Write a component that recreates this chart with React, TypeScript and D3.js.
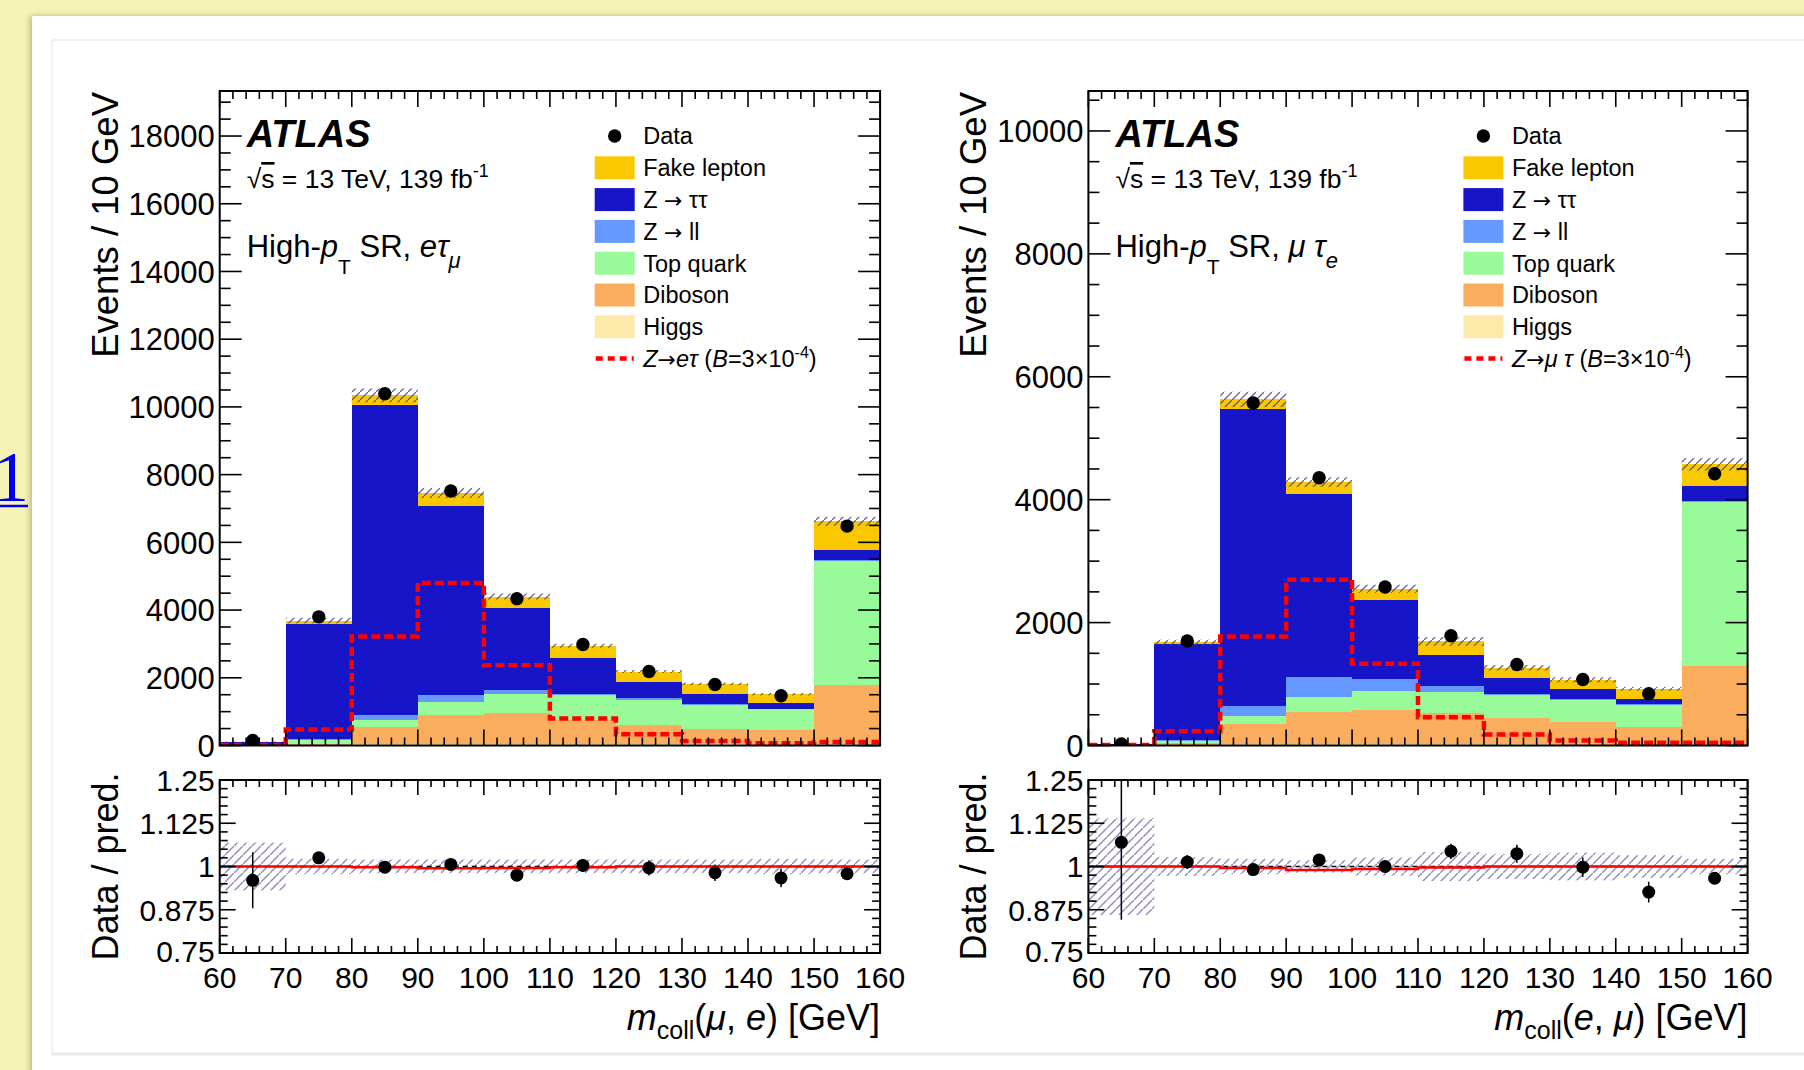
import React from 'react';
import * as d3 from 'd3';

// bin edges / centres of m_coll [GeV]
const edges = [60, 70, 80, 90, 100, 110, 120, 130, 140, 150, 160];
const centers = [65, 75, 85, 95, 105, 115, 125, 135, 145, 155];

// e tau_mu channel (left)
const etmData = [150, 3800, 10390, 7515, 4335, 2985, 2185, 1800, 1470, 6480];
const etmFake = [10, 115, 290, 380, 340, 355, 295, 305, 265, 840];
const etmZtt = [88, 3395, 9160, 5600, 2435, 1060, 490, 275, 165, 310];
const etmZll = [2, 10, 150, 200, 95, 50, 50, 30, 20, 20];
const etmTop = [4, 115, 200, 390, 575, 740, 730, 720, 595, 3675];
const etmDiboson = [4, 45, 500, 840, 905, 700, 585, 460, 445, 1735];
const etmHiggs = [2, 10, 40, 50, 50, 40, 35, 30, 25, 40];
const etmSignal = [15, 475, 3220, 4800, 2370, 800, 330, 130, 70, 100];
const etmUnc = [0.069, 0.022, 0.02, 0.02, 0.02, 0.02, 0.02, 0.02, 0.022, 0.02];
const etmRatio = [0.96, 1.025, 0.998, 1.006, 0.975, 1.003, 0.996, 0.982, 0.967, 0.979];
const etmRatioErr = [0.081, 0.017, 0.01, 0.012, 0.015, 0.019, 0.022, 0.024, 0.027, 0.013];
const etmRatioLine = [1, 1, 0.998, 0.995, 0.996, 0.998, 1, 1, 1, 1];

// mu tau_e channel (right)
const mteData = [25, 1700, 5573, 4358, 2578, 1785, 1319, 1075, 841, 4423];
const mteFake = [3, 22, 152, 200, 190, 217, 168, 157, 163, 358];
const mteZtt = [15, 1563, 4846, 2974, 1276, 515, 255, 163, 92, 239];
const mteZll = [1, 22, 147, 326, 200, 93, 27, 16, 17, 22];
const mteTop = [1, 32, 146, 244, 315, 336, 369, 353, 353, 2659];
const mteDiboson = [1, 30, 322, 518, 545, 510, 427, 365, 286, 1277];
const mteHiggs = [0, 8, 20, 25, 25, 22, 18, 15, 12, 20];
const mteSignal = [10, 233, 1775, 2697, 1330, 461, 179, 81, 43, 43];
const mteUnc = [0.14, 0.027, 0.022, 0.018, 0.026, 0.042, 0.036, 0.04, 0.033, 0.022];
const mteRatio = [1.07, 1.013, 0.991, 1.019, 1.0, 1.044, 1.037, 0.998, 0.926, 0.966];
const mteRatioErr = [0.224, 0.02, 0.012, 0.014, 0.018, 0.022, 0.026, 0.028, 0.03, 0.015];
const mteRatioLine = [1, 1, 0.996, 0.99, 0.993, 0.997, 1, 1, 1, 1];

const stackKeys = ['higgs', 'diboson', 'top', 'zll', 'ztt', 'fake'];
const colors: any = {
  fake: '#fac800',
  ztt: '#1616c8',
  zll: '#6699ff',
  top: '#99fa99',
  diboson: '#fbad5e',
  higgs: '#fde9a9',
};

const FONT = "'Liberation Sans', Arial, Helvetica, sans-serif";
const ARROW_FONT = "'DejaVu Sans', sans-serif";
const MAIN_TOP = 91;
const MAIN_BOT = 745.5;
const RAT_TOP = 780;
const RAT_BOT = 953;

const panels = [
  {
    id: 'etm', x0: 219.7, x1: 880.1, yMax: 19330,
    data: etmData, fake: etmFake, ztt: etmZtt, zll: etmZll, top: etmTop, diboson: etmDiboson, higgs: etmHiggs,
    signal: etmSignal, unc: etmUnc, ratio: etmRatio, ratioErr: etmRatioErr, ratioLine: etmRatioLine,
    lep: 'e', tau: 'μ', sigLep: 'e', xa: 'μ', xb: 'e',
  },
  {
    id: 'mte', x0: 1088.4, x1: 1747.6, yMax: 10650,
    data: mteData, fake: mteFake, ztt: mteZtt, zll: mteZll, top: mteTop, diboson: mteDiboson, higgs: mteHiggs,
    signal: mteSignal, unc: mteUnc, ratio: mteRatio, ratioErr: mteRatioErr, ratioLine: mteRatioLine,
    lep: 'μ', tau: 'e', sigLep: 'μ', xa: 'e', xb: 'μ',
  },
];

const Panel = ({ p }: { p: any }) => {
  const x = d3.scaleLinear().domain([60, 160]).range([p.x0, p.x1]);
  const y = d3.scaleLinear().domain([0, p.yMax]).range([MAIN_BOT, MAIN_TOP]);
  const r = d3.scaleLinear().domain([0.75, 1.25]).range([RAT_BOT, RAT_TOP]);

  const rows = centers.map((_, i) => ({
    higgs: p.higgs[i], diboson: p.diboson[i], top: p.top[i],
    zll: p.zll[i], ztt: p.ztt[i], fake: p.fake[i],
  }));
  const series = d3.stack<any>().keys(stackKeys)(rows);
  const totals = series[series.length - 1].map((d: any) => d[1]);

  const step = (vals: number[], sy: any) =>
    d3.line<number>()
      .x((_, i) => x(edges[i]))
      .y((d) => sy(d))
      .curve(d3.curveStepAfter)([...vals, vals[vals.length - 1]]) || '';

  // ticks
  const ticks: any[] = [];
  d3.range(60, 161, 2).forEach((v) => {
    const major = v % 10 === 0;
    const lm = major ? 16 : 8;
    const lr = major ? 15 : 7;
    ticks.push(<line key={'mb' + v} x1={x(v)} x2={x(v)} y1={MAIN_BOT} y2={MAIN_BOT - lm} />);
    ticks.push(<line key={'mt' + v} x1={x(v)} x2={x(v)} y1={MAIN_TOP} y2={MAIN_TOP + lm} />);
    ticks.push(<line key={'rb' + v} x1={x(v)} x2={x(v)} y1={RAT_BOT} y2={RAT_BOT - lr} />);
    ticks.push(<line key={'rt' + v} x1={x(v)} x2={x(v)} y1={RAT_TOP} y2={RAT_TOP + lr} />);
  });
  d3.range(0, p.yMax, 500).forEach((v) => {
    const l = v % 2000 === 0 ? 22 : 11;
    ticks.push(<line key={'yl' + v} x1={p.x0} x2={p.x0 + l} y1={y(v)} y2={y(v)} />);
    ticks.push(<line key={'yr' + v} x1={p.x1} x2={p.x1 - l} y1={y(v)} y2={y(v)} />);
  });
  d3.range(0, 21).forEach((k) => {
    const v = 0.75 + k * 0.025;
    const l = k % 5 === 0 ? 16 : 8;
    ticks.push(<line key={'rl' + k} x1={p.x0} x2={p.x0 + l} y1={r(v)} y2={r(v)} />);
    ticks.push(<line key={'rr' + k} x1={p.x1} x2={p.x1 - l} y1={r(v)} y2={r(v)} />);
  });

  const yLabels = d3.range(0, p.yMax, 2000);
  const rLabels = [0.75, 0.875, 1, 1.125, 1.25];
  const xLabels = d3.range(60, 161, 10);

  const lx = p.x0 + 375;
  const tx = p.x0 + 423.5;
  const ly = (k: number) => 136 + k * 31.8;
  const boxes = [
    { key: 'fake', label: 'Fake lepton' },
    { key: 'ztt', label: 'ττ', arrow: true },
    { key: 'zll', label: 'll', arrow: true },
    { key: 'top', label: 'Top quark' },
    { key: 'diboson', label: 'Diboson' },
    { key: 'higgs', label: 'Higgs' },
  ];

  return (
    <g fontFamily={FONT} fill="#000">
      <defs>
        <clipPath id={'clipMain' + p.id}>
          <rect x={p.x0} y={MAIN_TOP} width={p.x1 - p.x0} height={MAIN_BOT - MAIN_TOP} />
        </clipPath>
        <clipPath id={'clipRat' + p.id}>
          <rect x={p.x0} y={RAT_TOP} width={p.x1 - p.x0} height={RAT_BOT - RAT_TOP} />
        </clipPath>
      </defs>

      {/* stacked backgrounds */}
      <g clipPath={`url(#clipMain${p.id})`} shapeRendering="crispEdges">
        {series.map((s: any) =>
          s.map((d: any, i: number) => (
            <rect key={s.key + i} x={x(edges[i])} width={x(edges[i + 1]) - x(edges[i])}
              y={y(d[1])} height={Math.max(0, y(d[0]) - y(d[1]))} fill={colors[s.key]} />
          ))
        )}
      </g>
      {/* uncertainty band, signal, data */}
      <g clipPath={`url(#clipMain${p.id})`}>
        {totals.map((t: number, i: number) => (
          <rect key={'u' + i} x={x(edges[i])} width={x(edges[i + 1]) - x(edges[i])}
            y={y(t * (1 + p.unc[i]))} height={y(t * (1 - p.unc[i])) - y(t * (1 + p.unc[i]))}
            fill="url(#hatch)" />
        ))}
        <path d={step(p.signal, y)} fill="none" stroke="#ff0000" strokeWidth={4.5} strokeDasharray="9 4" />
        {p.data.map((d: number, i: number) => (
          <circle key={'d' + i} cx={x(centers[i])} cy={y(d)} r={6.7} fill="#000" />
        ))}
      </g>

      {/* ratio */}
      <g clipPath={`url(#clipRat${p.id})`}>
        {p.unc.map((u: number, i: number) => (
          <rect key={'ru' + i} x={x(edges[i])} width={x(edges[i + 1]) - x(edges[i])}
            y={r(1 + u)} height={r(1 - u) - r(1 + u)} fill="url(#hatchLight)" />
        ))}
        <line x1={p.x0} x2={p.x1} y1={r(1)} y2={r(1)} stroke="#000" strokeWidth={1.5} strokeDasharray="5 4" />
        <path d={step(p.ratioLine, r)} fill="none" stroke="#ff0000" strokeWidth={2.5} />
        {p.ratio.map((v: number, i: number) => (
          <g key={'rp' + i}>
            <line x1={x(centers[i])} x2={x(centers[i])} y1={r(v + p.ratioErr[i])} y2={r(v - p.ratioErr[i])}
              stroke="#000" strokeWidth={1.5} />
            <circle cx={x(centers[i])} cy={r(v)} r={6.5} fill="#000" />
          </g>
        ))}
      </g>

      {/* frames and ticks */}
      <rect x={p.x0} y={MAIN_TOP} width={p.x1 - p.x0} height={MAIN_BOT - MAIN_TOP} fill="none" stroke="#000" strokeWidth={2} />
      <rect x={p.x0} y={RAT_TOP} width={p.x1 - p.x0} height={RAT_BOT - RAT_TOP} fill="none" stroke="#000" strokeWidth={2} />
      <g stroke="#000" strokeWidth={1.6}>{ticks}</g>

      {/* tick labels */}
      {yLabels.map((v: number) => (
        <text key={'yl' + v} x={p.x0 - 5} y={y(v)} dy="0.36em" textAnchor="end" fontSize={31}>{v}</text>
      ))}
      {rLabels.map((v) => (
        <text key={'rl' + v} x={p.x0 - 5} y={r(v) - (v === 0.75 ? 2 : 0)} dy="0.36em" textAnchor="end" fontSize={30}>{String(v)}</text>
      ))}
      {xLabels.map((v: number) => (
        <text key={'xl' + v} x={x(v)} y={988} textAnchor="middle" fontSize={30}>{v}</text>
      ))}

      {/* axis titles */}
      <text transform={`translate(${p.x0 - 102},92) rotate(-90)`} textAnchor="end" fontSize={36.5}>Events / 10 GeV</text>
      <text transform={`translate(${p.x0 - 102},${(RAT_TOP + RAT_BOT) / 2}) rotate(-90)`} textAnchor="middle" fontSize={36}>Data / pred.</text>
      <text x={p.x1} y={1030} textAnchor="end" fontSize={36}>
        <tspan fontStyle="italic">m</tspan>
        <tspan fontSize={25} dy={9}>coll</tspan>
        <tspan dy={-9}>(</tspan>
        <tspan fontStyle="italic">{p.xa}</tspan>
        <tspan>{', '}</tspan>
        <tspan fontStyle="italic">{p.xb}</tspan>
        <tspan>{') [GeV]'}</tspan>
      </text>

      {/* labels */}
      <text x={p.x0 + 27} y={147} fontSize={38} fontWeight="bold" fontStyle="italic">ATLAS</text>
      <text x={p.x0 + 27} y={188} fontSize={26.5}>
        <tspan>√</tspan>
        <tspan style={{ textDecoration: 'overline' }}>s</tspan>
        <tspan>{' = 13 TeV, 139 fb'}</tspan>
        <tspan fontSize={18} dy={-11}>-1</tspan>
      </text>
      <text x={p.x0 + 27} y={257} fontSize={31}>
        <tspan>High-</tspan>
        <tspan fontStyle="italic">p</tspan>
        <tspan fontSize={21} dy={17}>T</tspan>
        <tspan dy={-17}>{' SR, '}</tspan>
        <tspan fontStyle="italic">{p.lep + (p.lep === 'μ' ? ' ' : '') + 'τ'}</tspan>
        <tspan fontStyle="italic" fontSize={22} dy={11}>{p.tau}</tspan>
      </text>

      {/* legend */}
      <circle cx={lx + 20} cy={ly(0)} r={6.7} fill="#000" />
      <text x={tx} y={ly(0)} dy="0.36em" fontSize={23.5}>Data</text>
      {boxes.map((b, k) => (
        <g key={b.key}>
          <rect x={lx} y={ly(k + 1) - 11.5} width={40} height={23} fill={colors[b.key]} />
          <text x={tx} y={ly(k + 1)} dy="0.36em" fontSize={23.5}>
            {b.arrow ? (
              <>
                <tspan>{'Z '}</tspan>
                <tspan fontFamily={ARROW_FONT} fontSize={22}>→</tspan>
                <tspan>{' ' + b.label}</tspan>
              </>
            ) : b.label}
          </text>
        </g>
      ))}
      <line x1={lx + 1} x2={lx + 39} y1={ly(7)} y2={ly(7)} stroke="#ff0000" strokeWidth={4.5} strokeDasharray="7 5" />
      <text x={tx} y={ly(7)} dy="0.36em" fontSize={23.5}>
        <tspan fontStyle="italic">Z</tspan>
        <tspan fontFamily={ARROW_FONT} fontSize={22}>→</tspan>
        <tspan fontStyle="italic">{p.sigLep + (p.sigLep === 'μ' ? ' ' : '') + 'τ'}</tspan>
        <tspan>{' ('}</tspan>
        <tspan fontStyle="italic">B</tspan>
        <tspan>=3×10</tspan>
        <tspan fontSize={16} dy={-9}>-4</tspan>
        <tspan dy={9}>)</tspan>
      </text>
    </g>
  );
};

const App = () => {
  return (
    <svg width={1804} height={1070} style={{ position: 'absolute', left: 0, top: 0, display: 'block' }}>
      <defs>
        <pattern id="hatch" width={8} height={8} patternUnits="userSpaceOnUse">
          <line x1={0} y1={8} x2={8} y2={0} stroke="#4a4a96" strokeWidth={1.3} strokeOpacity={0.85} />
        </pattern>
        <pattern id="hatchLight" width={9} height={9} patternUnits="userSpaceOnUse">
          <line x1={0} y1={9} x2={9} y2={0} stroke="#8c8cbe" strokeWidth={1.4} />
        </pattern>
        <filter id="cardShadow" x="-5%" y="-5%" width="110%" height="110%">
          <feDropShadow dx={-2} dy={0} stdDeviation={3} floodColor="#a8a56a" floodOpacity={0.8} />
        </filter>
      </defs>
      <rect x={0} y={0} width={1804} height={1070} fill="#f5f4b6" />
      <rect x={32} y={16} width={1800} height={1100} fill="#ffffff" filter="url(#cardShadow)" />
      <rect x={52} y={40} width={1790} height={1014} fill="#ffffff" stroke="#eeeeee" strokeWidth={1.5} />
      <line x1={52} x2={1804} y1={1054} y2={1054} stroke="#e8e8e8" strokeWidth={3} />

      {/* page link fragment on the left */}
      <text x={-7} y={501} fontFamily="'Liberation Serif', 'Times New Roman', serif" fontSize={72} fill="#0000ee">1</text>
      <line x1={0} x2={28} y1={506} y2={506} stroke="#0000ee" strokeWidth={2.5} />

      {panels.map((p) => <Panel key={p.id} p={p} />)}
    </svg>
  );
};

export default App;
